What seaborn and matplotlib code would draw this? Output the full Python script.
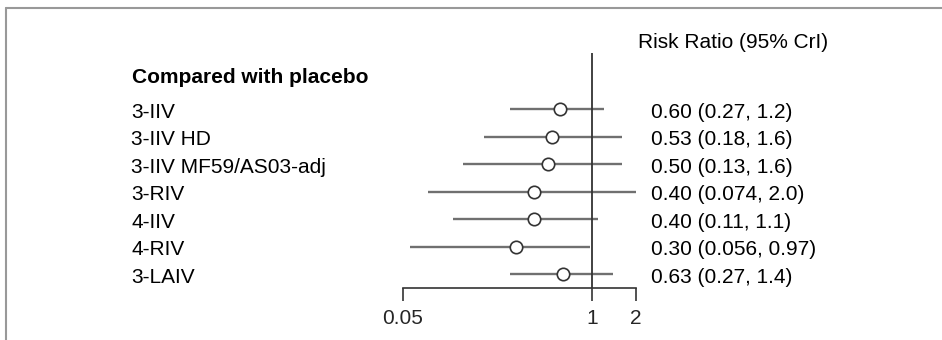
import matplotlib
matplotlib.use("Agg")
import matplotlib.pyplot as plt
import matplotlib.transforms as mtransforms
from matplotlib.lines import Line2D
import numpy as np
import pandas as pd
import seaborn as sns

# Network meta-analysis results versus placebo
vaccines = ["3-IIV", "3-IIV HD", "3-IIV MF59/AS03-adj", "3-RIV", "4-IIV", "4-RIV", "3-LAIV"]
risk_ratio = [0.60, 0.53, 0.50, 0.40, 0.40, 0.30, 0.63]
cri_low = [0.27, 0.18, 0.13, 0.074, 0.11, 0.056, 0.27]
cri_high = [1.2, 1.6, 1.6, 2.0, 1.1, 0.97, 1.4]
value_labels = ["0.60 (0.27, 1.2)", "0.53 (0.18, 1.6)", "0.50 (0.13, 1.6)",
                "0.40 (0.074, 2.0)", "0.40 (0.11, 1.1)", "0.30 (0.056, 0.97)",
                "0.63 (0.27, 1.4)"]
x_ticks = [0.05, 1, 2]
x_tick_labels = ["0.05", "1", "2"]

df = pd.DataFrame({"vaccine": vaccines, "rr": risk_ratio,
                   "lo": cri_low, "hi": cri_high, "row": np.arange(len(vaccines))})

sns.set_theme(style="white")
plt.rcParams["font.family"] = ["Liberation Sans", "DejaVu Sans"]
FS = 15

W, H = 942, 340
fig = plt.figure(figsize=(W / 100, H / 100), dpi=100)

# forest panel: x from 0.05 to 2 on a log scale, one row per vaccine
row_px = 27.5
first_row_px = 109
left_px, right_px = 403, 636
top_px = first_row_px - 2.5 * row_px
bottom_px = first_row_px + 6.5 * row_px
ax = fig.add_axes([left_px / W, 1 - bottom_px / H,
                   (right_px - left_px) / W, (bottom_px - top_px) / H])
ax.set_xscale("log")
ax.set_xlim(0.05, 2)
ax.set_ylim(6.5, -2.5)

# null line at RR = 1
ax.vlines(1, -2.04, 6.5, color="#333333", lw=1.3, zorder=2)

# credible intervals
ax.hlines(df["row"], df["lo"], df["hi"], color="#707070", lw=1.7, zorder=1)

# point estimates
sns.scatterplot(data=df, x="rr", y="row", ax=ax, s=80, marker="o",
                facecolor="white", edgecolor="#333333", linewidth=1.2,
                zorder=3, legend=False, clip_on=False)

for side in ["top", "right", "left"]:
    ax.spines[side].set_visible(False)
ax.spines["bottom"].set_bounds(0.05, 2)
ax.spines["bottom"].set_color("#333333")
ax.spines["bottom"].set_linewidth(1.2)
ax.set_xticks(x_ticks)
ax.set_xticklabels(x_tick_labels)
ax.xaxis.set_minor_locator(matplotlib.ticker.NullLocator())
ax.tick_params(axis="x", direction="out", length=9.5, width=1.2, color="#333333",
               labelsize=FS, pad=6, bottom=True)
ax.set_yticks([])
ax.set_xlabel("")
ax.set_ylabel("")
ax.patch.set_alpha(0)

# text columns positioned in figure x, data y
trans = mtransforms.blended_transform_factory(fig.transFigure, ax.transData)
base = 0.31
ax.text(132 / W, -0.945, "Compared with placebo", transform=trans, fontsize=FS,
        fontweight="bold", va="baseline", ha="left", color="black")
ax.text(638 / W, -2.22, "Risk Ratio (95% CrI)", transform=trans, fontsize=FS,
        va="baseline", ha="left", color="black")
for r, name, val in zip(df["row"], vaccines, value_labels):
    ax.text(131 / W, r + base, name, transform=trans, fontsize=FS,
            va="baseline", ha="left", color="black")
    ax.text(651 / W, r + base, val, transform=trans, fontsize=FS,
            va="baseline", ha="left", color="black")

# panel frame (left and top edges)
fig.add_artist(Line2D([6 / W, 6 / W], [0, 1 - 8 / H], transform=fig.transFigure,
                      color="#999999", lw=1.5))
fig.add_artist(Line2D([6 / W, 1], [1 - 8 / H, 1 - 8 / H], transform=fig.transFigure,
                      color="#999999", lw=1.5))

fig.savefig("out.png", dpi=100, facecolor="white")
